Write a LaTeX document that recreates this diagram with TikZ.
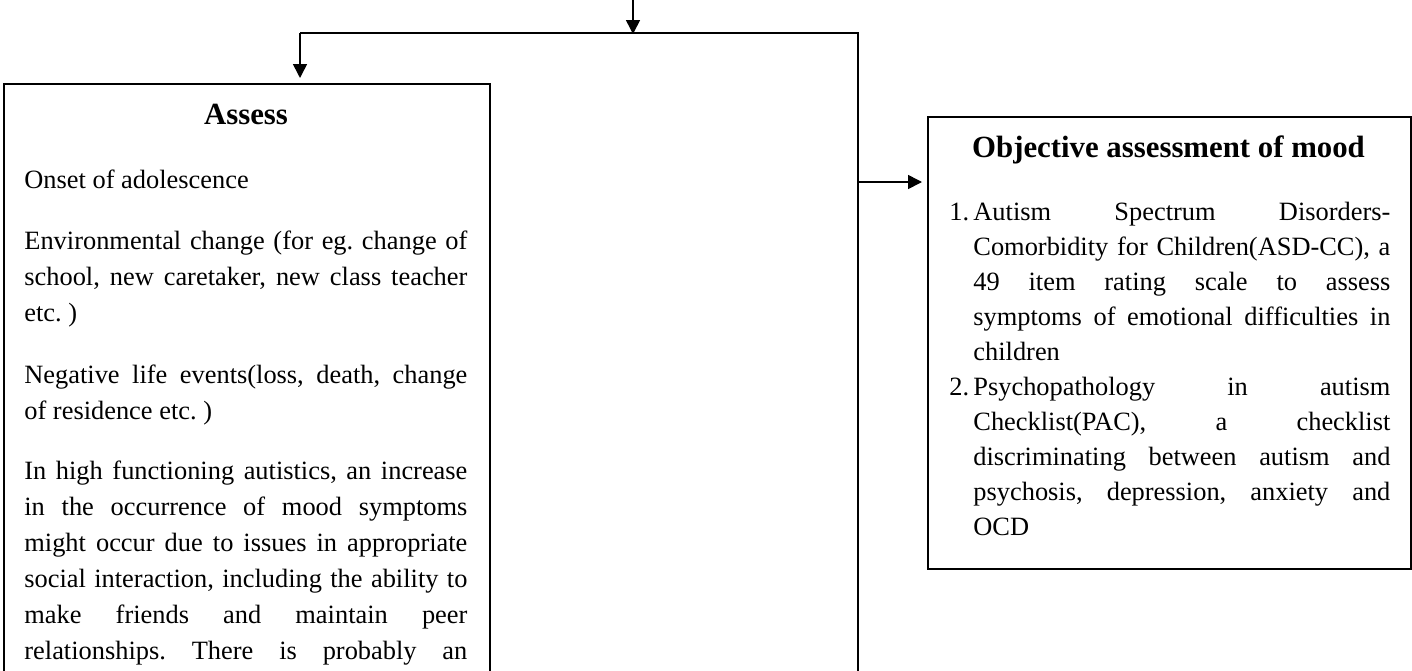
\documentclass[tikz,border=0pt]{standalone}
\usepackage{fontspec}
\setmainfont{Liberation Serif}
\usetikzlibrary{arrows.meta}
\newlength\lcolw \setlength\lcolw{221.5pt}
\newlength\rcolw \setlength\rcolw{208.5pt}
\newcommand\jl[1]{\makebox[\lcolw][s]{#1}}
\newcommand\jr[1]{\makebox[\rcolw][s]{#1}}
\newcommand\ind{\makebox[12pt][l]{}}
\frenchspacing
\hbadness=10000
\begin{document}
\begin{tikzpicture}[x=0.5pt,y=-0.5pt,
  frame/.style={draw=black,line width=0.8pt,rectangle,inner sep=0pt,anchor=north west},
  body/.style={inner sep=0pt,anchor=base west,align=left,font=\fontsize{13.2}{18}\selectfont},
  rbody/.style={inner sep=0pt,anchor=base west,align=left,font=\fontsize{13.2}{17.5}\selectfont},
  head/.style={inner sep=0pt,anchor=base,font=\fontsize{15.4}{18}\selectfont\bfseries},
  link/.style={line width=0.8pt},
  arr/.style={link,-{Triangle[length=7pt,width=7pt]}}]
\useasboundingbox (0,0) rectangle (1412,670);
\clip (0,0) rectangle (1412,670);
\fill[white] (0,0) rectangle (1412,670);
% boxes
\node[frame,minimum width=243pt,minimum height=320pt] (assess) at (3,83) {};
\node[frame,minimum width=241.5pt,minimum height=226pt] (mood) at (927,116) {};
% connectors
\coordinate (src) at (633,-5);
\coordinate (split) at (633,34);
\coordinate (jl) at (300,33);
\coordinate (jr) at (858,33);
\coordinate (jb) at (858,700);
\coordinate (tap) at (858,182);
\draw[arr] (src) -- (split);
\draw[link] (jl) -- (jr) -- (jb);
\draw[arr] (jl) -- ([yshift=2.5pt]jl |- assess.north);
\draw[arr] (tap) -- ([xshift=-2.5pt]tap -| mood.west);
% left box text (anchor = baseline of the last line)
\node[head] (assesst) at (246,124) {Assess};
\node[body] (p1) at (24,188) {Onset of adolescence};
\node[body] (p2) at (24,321) {\jl{Environmental change (for eg. change of}\\
\jl{school, new caretaker, new class teacher}\\
etc. )};
\node[body] (p3) at (24,419) {\jl{Negative life events(loss, death, change}\\
of residence etc. )};
\node[body] (p4) at (24,659) {\jl{In high functioning autistics, an increase}\\
\jl{in the occurrence of mood symptoms}\\
\jl{might occur due to issues in appropriate}\\
\jl{social interaction, including the ability to}\\
\jl{make friends and maintain peer}\\
\jl{relationships. There is probably an}};
% right box text
\node[head] (moodt) at (1168.5,157) {Objective assessment of mood};
\node[rbody] (i1) at (949,360) {\makebox[12pt][l]{1.}\jr{Autism Spectrum Disorders-}\\
\ind\jr{Comorbidity for Children(ASD-CC), a}\\
\ind\jr{49 item rating scale to assess}\\
\ind\jr{symptoms of emotional difficulties in}\\
\ind children};
\node[rbody] (i2) at (949,535) {\makebox[12pt][l]{2.}\jr{Psychopathology in autism}\\
\ind\jr{Checklist(PAC), a checklist}\\
\ind\jr{discriminating between autism and}\\
\ind\jr{psychosis, depression, anxiety and}\\
\ind OCD};
\end{tikzpicture}
\end{document}
